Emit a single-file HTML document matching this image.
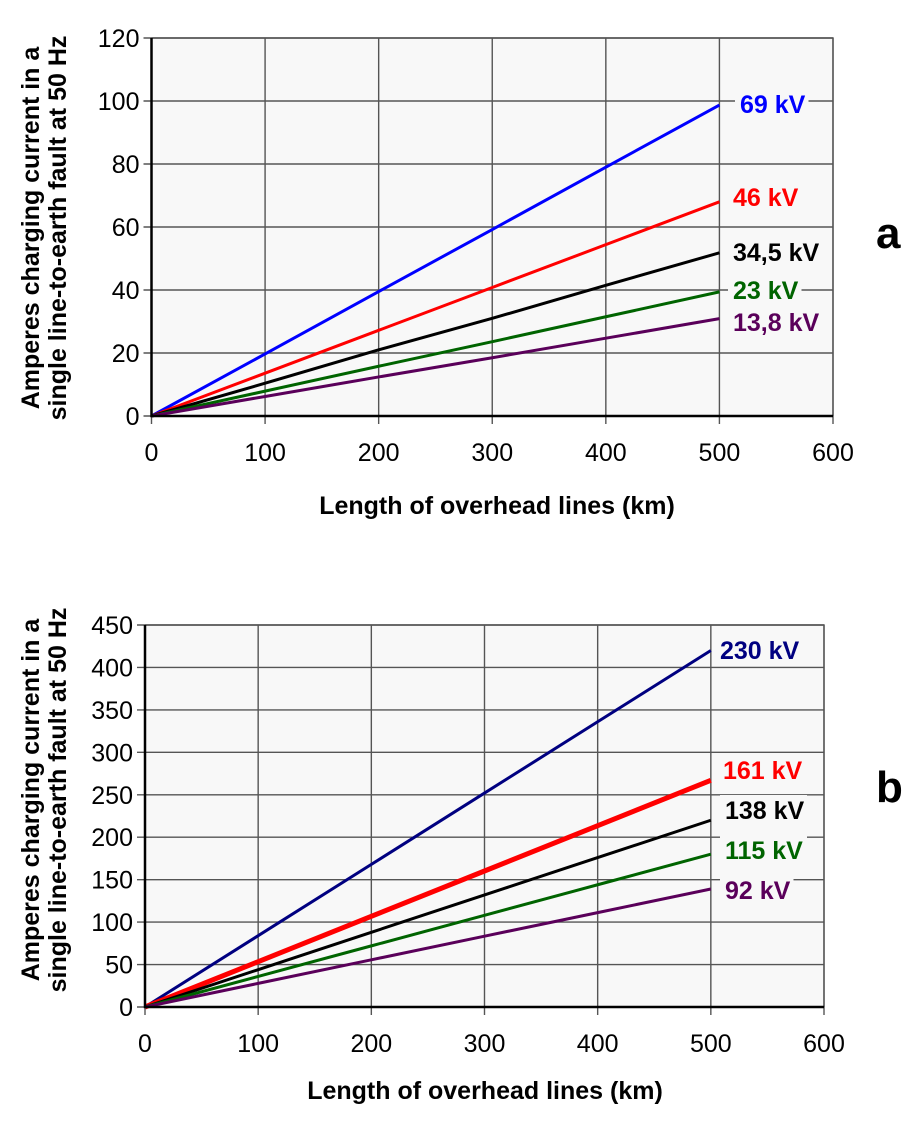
<!DOCTYPE html>
<html><head><meta charset="utf-8"><style>
body{margin:0;background:#fff;}
svg text{font-family:"Liberation Sans",Arial,sans-serif;}
</style></head><body>
<svg id="s" width="924" height="1128" viewBox="0 0 924 1128" xmlns="http://www.w3.org/2000/svg"></svg>
<script>
const xTicks = [0,100,200,300,400,500,600];
const yTicksA = [0,20,40,60,80,100,120];
const yTicksB = [0,50,100,150,200,250,300,350,400,450];
const lengthsKm = [0,100,200,300,400,500];
const seriesA_69 = [0,19.7,39.5,59.2,79,98.7];
const seriesA_46 = [0,13.6,27.2,40.8,54.4,68];
const seriesA_345 = [0,10.4,21,31,41.5,51.8];
const seriesA_23 = [0,7.9,15.8,23.6,31.5,39.4];
const seriesA_138 = [0,6.2,12.4,18.5,24.7,30.9];
const seriesB_230 = [0,84,168,252,336,420];
const seriesB_161 = [0,53.4,106.8,160.2,213.6,267];
const seriesB_138 = [0,44,88,132,176,220];
const seriesB_115 = [0,36,72,108,144,180];
const seriesB_92 = [0,27.8,55.6,83.4,111.2,139];
const labelsA = ["69 kV","46 kV","34,5 kV","23 kV","13,8 kV"];
const labelsB = ["230 kV","161 kV","138 kV","115 kV","92 kV"];

const svg=document.getElementById('s');
const NS='http://www.w3.org/2000/svg';
function mk(tag,attrs,parent){const e=document.createElementNS(NS,tag);for(const k in attrs)e.setAttribute(k,attrs[k]);(parent||svg).appendChild(e);return e;}

function chart(cfg){
  const g=mk('g',{});
  
  
  const X=v=>cfg.x0+(v-0)/600*(cfg.x1-cfg.x0);
  const Y=v=>cfg.y0-(v/cfg.ymax)*(cfg.y0-cfg.y1);
  const bg=mk('rect',{x:cfg.x0,y:cfg.y1,width:cfg.x1-cfg.x0,height:cfg.y0-cfg.y1,fill:'#f8f8f8'},g);
  
  
  cfg.yt.forEach(v=>{
    const l=mk('line',{x1:cfg.x0-8,x2:cfg.x1,y1:Y(v),y2:Y(v),stroke:'#555','stroke-width':1.4},g);
    
    
    const t=mk('text',{x:cfg.x0-12,y:Y(v)+9,'text-anchor':'end','font-size':25,fill:'#000'},g);
    
    
    t.textContent=v;
  });
  xTicks.forEach(v=>{
    const l=mk('line',{x1:X(v),x2:X(v),y1:cfg.y1,y2:cfg.y0+8,stroke:'#555','stroke-width':1.4},g);
    
    
    const t=mk('text',{x:X(v),y:cfg.y0+45,'text-anchor':'middle','font-size':25,fill:'#000'},g);
    
    
    t.textContent=v;
  });
  cfg.series.forEach((s,i)=>{
    const p=mk('polyline',{points:lengthsKm.map((k,j)=>X(k)+','+Y(s.v[j])).join(' '),fill:'none',stroke:s.c,'stroke-width':s.w||3,'stroke-linejoin':'round'},g);
    
    
    const tw=Math.min(cfg.labels[i].length*13.5+6, cfg.x1-1-(s.lx-5));
    const r=mk('rect',{x:s.lx-5,y:s.ly-15,width:tw,height:30,fill:'#f8f8f8'},g);
    
    
    const t=mk('text',{x:s.lx,y:s.ly+9,'font-size':25,'font-weight':'bold',fill:s.c},g);
    
    
    t.textContent=cfg.labels[i];
  });
  const fr=mk('path',{d:`M${cfg.x0},${cfg.y1}H${cfg.x1}V${cfg.y0}`,fill:'none',stroke:'#555','stroke-width':1.4},g);
  
  
  const ax=mk('path',{d:`M${cfg.x0},${cfg.y1}V${cfg.y0}H${cfg.x1}`,fill:'none',stroke:'#000','stroke-width':2.5},g);
  
  
  const yt=mk('text',{transform:`translate(39,${cfg.tc}) rotate(-90)`,'text-anchor':'middle','font-size':25,'font-weight':'bold'},g);
  
  
  const t1=mk('tspan',{x:0,dy:0},yt);t1.textContent='Amperes charging current in a';
  const t2=mk('tspan',{x:0,dy:27},yt);t2.textContent='single line-to-earth fault at 50 Hz';
  const xt=mk('text',{x:cfg.xtx,y:cfg.xty,'text-anchor':'middle','font-size':25,'font-weight':'bold'},g);
  
  
  xt.textContent='Length of overhead lines (km)';
  const pl=mk('text',{x:cfg.px,y:cfg.py,'font-size':44,'font-weight':'bold'},g);
  
  
  pl.textContent=cfg.panel;
}
chart({name:'chart-a',x0:151.5,x1:833,y0:416,y1:38,ymax:120,yt:yTicksA,labels:labelsA,tc:228,xtx:497,xty:514,px:876,py:248,panel:'a',
 series:[{v:seriesA_69,c:'#0000ff',lx:740,ly:104},{v:seriesA_46,c:'#ff0000',lx:733,ly:197},{v:seriesA_345,c:'#000000',lx:733,ly:252},{v:seriesA_23,c:'#006400',lx:733,ly:290},{v:seriesA_138,c:'#5a005a',lx:733,ly:322}]});
chart({name:'chart-b',x0:145,x1:824,y0:1007,y1:625,ymax:450,yt:yTicksB,labels:labelsB,tc:800,xtx:485,xty:1099,px:876,py:802,panel:'b',
 series:[{v:seriesB_230,c:'#000080',lx:720,ly:650},{v:seriesB_161,c:'#ff0000',w:5,lx:723,ly:770},{v:seriesB_138,c:'#000000',lx:725,ly:810},{v:seriesB_115,c:'#006400',lx:725,ly:850},{v:seriesB_92,c:'#5a005a',lx:725,ly:890}]});
</script>
</body></html>
